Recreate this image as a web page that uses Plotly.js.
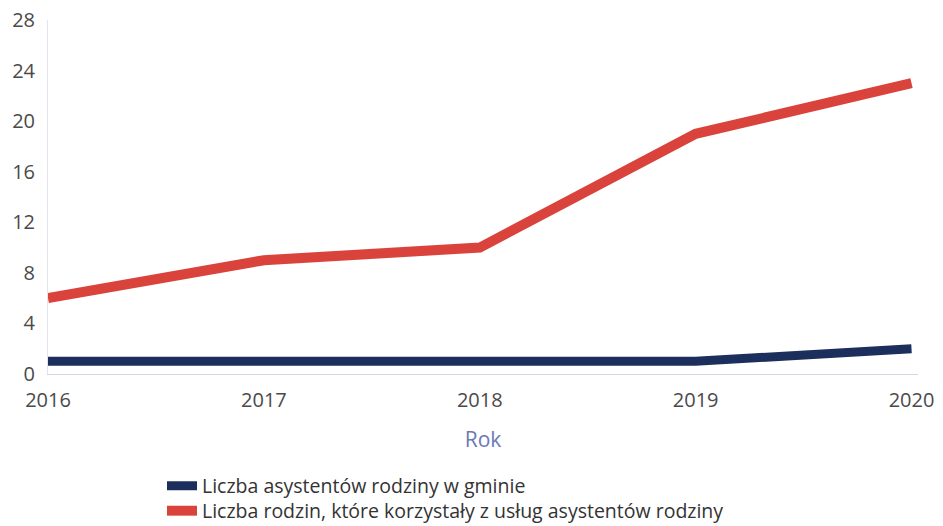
<!DOCTYPE html>
<html>
<head>
<meta charset="utf-8">
<script src="https://cdn.plot.ly/plotly-3.0.1.min.js"></script>
<style>html,body{margin:0;padding:0;background:#fff;}</style>
</head>
<body>
<div id="chart" style="width:943px;height:526px;"></div>
<script>
const years = [2016, 2017, 2018, 2019, 2020];
const asystenci = [1, 1, 1, 1, 2];
const rodziny = [6, 9, 10, 19, 23];
const seriesNames = [
  "Liczba asystentów rodziny w gminie",
  "Liczba rodzin, które korzystały z usług asystentów rodziny"
];
const yTicks = [0, 4, 8, 12, 16, 20, 24, 28];

const traces = [
  {x: years, y: asystenci, name: seriesNames[0], type: "scatter", mode: "lines",
   line: {color: "#1c2f5c", width: 9}, legend: "legend"},
  {x: years, y: rodziny, name: seriesNames[1], type: "scatter", mode: "lines",
   line: {color: "#d9433b", width: 10}, legend: "legend2"}
];

const legendBase = {
  xref: "container", yref: "container", xanchor: "left", yanchor: "middle",
  font: {size: 19.5, color: "#333"}, itemwidth: 30, bgcolor: "rgba(0,0,0,0)"
};

const layout = {
  width: 943, height: 526,
  margin: {l: 48, r: 25, t: 20, b: 152, autoexpand: false},
  paper_bgcolor: "#fff", plot_bgcolor: "#fff",
  font: {family: "Open Sans, sans-serif", color: "#4a4a4a", size: 17},
  showlegend: true,
  legend: Object.assign({}, legendBase, {x: 162 / 943, y: (526 - 486) / 526}),
  legend2: Object.assign({}, legendBase, {x: 162 / 943, y: (526 - 511) / 526}),
  xaxis: {
    range: [2016, 2020.03], tickvals: years, ticktext: years.map(String),
    showgrid: false, zeroline: false, showline: true, linecolor: "#d6d6e2", linewidth: 1,
    ticks: "", ticklabelstandoff: 8, automargin: false,
    tickfont: {size: 20, color: "#4a4a4a"},
    title: {text: "Rok", font: {size: 21, color: "#6a78b8"}, standoff: 20}
  },
  yaxis: {
    range: [0, 28], tickvals: yTicks, automargin: false,
    showgrid: false, zeroline: false, showline: true, linecolor: "#e4e4ee", linewidth: 1,
    ticks: "", ticklabelstandoff: 8,
    tickfont: {size: 20, color: "#4a4a4a"}
  }
};

Plotly.newPlot("chart", traces, layout, {displayModeBar: false, staticPlot: true});
</script>
</body>
</html>
